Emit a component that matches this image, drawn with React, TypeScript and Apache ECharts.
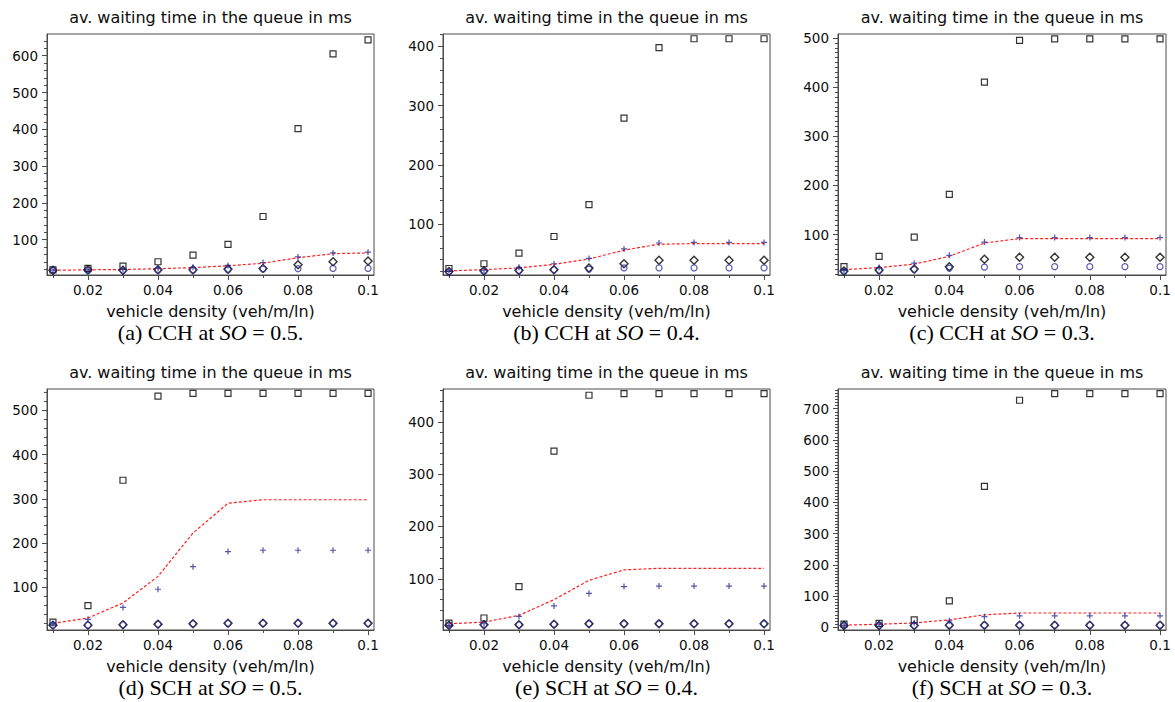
import React, { useEffect, useRef } from "react";
import * as echarts from "echarts";

// ---------- data ----------
const density = [0.01, 0.02, 0.03, 0.04, 0.05, 0.06, 0.07, 0.08, 0.09, 0.1];

const panelLetters = ["(a)", "(b)", "(c)", "(d)", "(e)", "(f)"];
const schemes = ["CCH", "CCH", "CCH", "SCH", "SCH", "SCH"];
const soValues = ["0.5", "0.4", "0.3", "0.5", "0.4", "0.3"];

const titleText = "av. waiting time in the queue in ms";
const xAxisTitle = "vehicle density (veh/m/ln)";
const xTickLabels = [0.02, 0.04, 0.06, 0.08, 0.1];
const xMinorTicks = [0.01, 0.03, 0.05, 0.07, 0.09];

// panel (a) CCH SO=0.5
const aSquare = [18, 22, 28, 40, 58, 87, 163, 402, 605, 643];
const aPlus = [17, 18, 19, 22, 25, 30, 38, 53, 64, 66];
const aLine = [17, 18, 19, 21, 24, 29, 36, 51, 62, 64];
const aDiamond = [17, 18, 17, 18, 18, 20, 22, 32, 40, 42];
const aCircle = [17, 16, 16, 17, 17, 18, 20, 21, 22, 22];

// panel (b) CCH SO=0.4
const bSquare = [25, 33, 51, 79, 133, 279, 398, 413, 413, 413];
const bPlus = [21, 22, 27, 33, 42, 58, 68, 69, 69, 69];
const bLine = [21, 23, 26, 32, 41, 56, 66, 67, 67, 67];
const bDiamond = [20, 21, 22, 23, 26, 33, 39, 39, 39, 39];
const bCircle = [19, 20, 21, 23, 24, 26, 26, 26, 26, 26];

// panel (c) CCH SO=0.3
const cSquare = [35, 56, 95, 182, 410, 495, 498, 498, 498, 498];
const cPlus = [27, 33, 42, 58, 85, 94, 94, 94, 94, 94];
const cLine = [29, 33, 40, 56, 83, 92, 92, 92, 92, 92];
const cDiamond = [26, 28, 30, 35, 50, 54, 54, 54, 54, 54];
const cCircle = [25, 27, 29, 32, 34, 35, 35, 35, 35, 35];

// panel (d) SCH SO=0.5
const dSquare = [22, 59, 342, 532, 538, 538, 538, 538, 538, 538];
const dPlus = [18, 28, 55, 96, 147, 181, 184, 184, 184, 184];
const dLine = [19, 31, 65, 125, 223, 290, 298, 298, 298, 298];
const dDiamond = [15, 15, 16, 17, 18, 19, 19, 19, 19, 19];
const dCircle = [15, 15, 16, 17, 18, 19, 19, 19, 19, 19];

// panel (e) SCH SO=0.4
const eSquare = [15, 25, 85, 344, 451, 454, 454, 454, 454, 454];
const ePlus = [11, 14, 28, 48, 72, 85, 86, 86, 86, 86];
const eLine = [14, 17, 30, 60, 97, 117, 120, 120, 120, 120];
const eDiamond = [11, 12, 12, 13, 14, 14, 14, 14, 14, 14];
const eCircle = [11, 12, 12, 13, 14, 14, 14, 14, 14, 14];

// panel (f) SCH SO=0.3
const fSquare = [10, 13, 24, 85, 451, 727, 748, 748, 748, 748];
const fPlus = [6, 10, 15, 21, 34, 37, 37, 37, 37, 37];
const fLine = [7, 10, 14, 24, 40, 46, 46, 46, 46, 46];
const fDiamond = [6, 6, 6, 7, 7, 7, 7, 7, 7, 7];
const fCircle = [6, 6, 6, 7, 7, 7, 7, 7, 7, 7];

const squares = [aSquare, bSquare, cSquare, dSquare, eSquare, fSquare];
const pluses = [aPlus, bPlus, cPlus, dPlus, ePlus, fPlus];
const lines = [aLine, bLine, cLine, dLine, eLine, fLine];
const diamonds = [aDiamond, bDiamond, cDiamond, dDiamond, eDiamond, fDiamond];
const circles = [aCircle, bCircle, cCircle, dCircle, eCircle, fCircle];

// y axis extents and ticks per panel
const yMins = [4, 14, 18, 4, 2, -8.5];
const yMaxs = [659, 421, 508, 548, 463, 763];
const yMajorTicks = [
  [100, 200, 300, 400, 500, 600],
  [100, 200, 300, 400],
  [100, 200, 300, 400, 500],
  [100, 200, 300, 400, 500],
  [100, 200, 300, 400],
  [0, 100, 200, 300, 400, 500, 600, 700],
];
const yMinorSteps = [20, 20, 10, 20, 20, 10];

// ---------- layout ----------
const colLefts = [47, 443, 838];
const colWidths = [327, 327, 328];
const rowTops = [34, 389];
const gridHeight = 241;

const SANS = "DejaVu Sans";
const SERIF = "Liberation Serif";
const AXIS_COLOR = "#4a4a4a";
const TEXT_COLOR = "#0d0d0d";
const X_MIN = 0.0083;
const X_MAX = 0.1017;
const CAPTION_SIZE = 22;

const plusPath = "path://M2,0H3V2H5V3H3V5H2V3H0V2H2Z";

function minorTicksFor(min: number, max: number, step: number): number[] {
  const out: number[] = [];
  const start = Math.ceil(min / step) * step;
  for (let v = start; v <= max + 1e-9; v += step) {
    const r = Math.round(v * 1000) / 1000;
    if (Math.abs(r % 100) > 1e-6) out.push(r);
  }
  return out;
}

function measure(text: string, font: string): number {
  const c = document.createElement("canvas").getContext("2d");
  if (!c) return text.length * 10;
  c.font = font;
  return c.measureText(text).width;
}

function buildOption() {
  const grid: any[] = [];
  const xAxis: any[] = [];
  const yAxis: any[] = [];
  const series: any[] = [];
  const graphic: any[] = [];

  const normalFont = `${CAPTION_SIZE}px "${SERIF}"`;
  const italicFont = `italic ${CAPTION_SIZE}px "${SERIF}"`;

  for (let i = 0; i < 6; i++) {
    const col = i % 3;
    const row = Math.floor(i / 3);
    const left = colLefts[col];
    const width = colWidths[col];
    const top = rowTops[row];
    const cx = left + width / 2;

    grid.push({
      left,
      top,
      width,
      height: gridHeight,
      show: true,
      borderColor: AXIS_COLOR,
      borderWidth: 1,
      backgroundColor: "transparent",
      containLabel: false,
    });

    xAxis.push({
      gridIndex: i,
      type: "value",
      position: "bottom",
      min: X_MIN,
      max: X_MAX,
      axisLine: { show: true, onZero: false, lineStyle: { color: AXIS_COLOR, width: 1 } },
      axisTick: { show: true, inside: false, length: 5, customValues: xTickLabels, lineStyle: { color: AXIS_COLOR } },
      axisLabel: {
        show: true,
        customValues: xTickLabels,
        fontFamily: SANS,
        fontSize: 13.5,
        color: TEXT_COLOR,
        margin: 8,
      },
      splitLine: { show: false },
      name: xAxisTitle,
      nameLocation: "middle",
      nameGap: 28,
      nameTextStyle: { fontFamily: SANS, fontSize: 16, color: TEXT_COLOR },
    });
    xAxis.push({
      gridIndex: i,
      type: "value",
      position: "bottom",
      offset: 0,
      min: X_MIN,
      max: X_MAX,
      axisLine: { show: false, onZero: false },
      axisTick: { show: true, inside: false, length: 3, customValues: xMinorTicks, lineStyle: { color: AXIS_COLOR } },
      axisLabel: { show: false },
      splitLine: { show: false },
    });

    yAxis.push({
      gridIndex: i,
      type: "value",
      position: "left",
      min: yMins[i],
      max: yMaxs[i],
      axisLine: { show: true, onZero: false, lineStyle: { color: AXIS_COLOR, width: 1 } },
      axisTick: { show: true, inside: false, length: 5, customValues: yMajorTicks[i], lineStyle: { color: AXIS_COLOR } },
      axisLabel: {
        show: true,
        customValues: yMajorTicks[i],
        fontFamily: SANS,
        fontSize: 13.5,
        color: TEXT_COLOR,
        margin: 9,
      },
      splitLine: { show: false },
    });
    yAxis.push({
      gridIndex: i,
      type: "value",
      position: "left",
      offset: 0,
      min: yMins[i],
      max: yMaxs[i],
      axisLine: { show: false, onZero: false },
      axisTick: {
        show: true,
        inside: false,
        length: 3,
        customValues: minorTicksFor(yMins[i], yMaxs[i], yMinorSteps[i]),
        lineStyle: { color: AXIS_COLOR },
      },
      axisLabel: { show: false },
      splitLine: { show: false },
    });

    const xi = 2 * i;
    const yi = 2 * i;
    const pts = (arr: number[]) => density.map((x, j) => [x, arr[j]]);

    series.push({
      type: "line",
      xAxisIndex: xi,
      yAxisIndex: yi,
      data: pts(lines[i]),
      symbol: "none",
      showSymbol: false,
      lineStyle: { color: "#ff2020", width: 1.2, type: [3, 2] },
      z: 2,
      silent: true,
    });
    series.push({
      type: "scatter",
      xAxisIndex: xi,
      yAxisIndex: yi,
      data: pts(squares[i]),
      symbol: "rect",
      symbolSize: 6,
      itemStyle: { color: "transparent", borderColor: "#000", borderWidth: 1.2 },
      z: 3,
    });
    series.push({
      type: "scatter",
      xAxisIndex: xi,
      yAxisIndex: yi,
      data: pts(diamonds[i]),
      symbol: "diamond",
      symbolSize: 8,
      itemStyle: { color: "transparent", borderColor: "#000", borderWidth: 1.4 },
      z: 3,
    });
    series.push({
      type: "scatter",
      xAxisIndex: xi,
      yAxisIndex: yi,
      data: pts(circles[i]),
      symbol: "circle",
      symbolSize: 6,
      itemStyle: { color: "transparent", borderColor: "#2d2d9c", borderWidth: 1.2 },
      z: 4,
    });
    series.push({
      type: "scatter",
      xAxisIndex: xi,
      yAxisIndex: yi,
      data: pts(pluses[i]),
      symbol: plusPath,
      symbolSize: 6,
      itemStyle: { color: "#2a2a96" },
      z: 5,
    });

    graphic.push({
      type: "text",
      x: cx,
      y: top - 17,
      style: {
        text: titleText,
        fontFamily: SANS,
        fontSize: 16,
        fill: TEXT_COLOR,
        align: "center",
        verticalAlign: "middle",
      },
    });

    const part1 = `${panelLetters[i]} ${schemes[i]} at `;
    const part2 = "SO";
    const part3 = ` = ${soValues[i]}.`;
    const w1 = measure(part1, normalFont);
    const w2 = measure(part2, italicFont);
    const w3 = measure(part3, normalFont);
    const startX = cx - (w1 + w2 + w3) / 2;
    const cy = top + gridHeight + 57;
    const parts = [
      { t: part1, x: startX, italic: false },
      { t: part2, x: startX + w1, italic: true },
      { t: part3, x: startX + w1 + w2, italic: false },
    ];
    parts.forEach((p) => {
      graphic.push({
        type: "text",
        x: p.x,
        y: cy,
        style: {
          text: p.t,
          fontFamily: SERIF,
          fontSize: CAPTION_SIZE,
          fontStyle: p.italic ? "italic" : "normal",
          fill: "#000",
          align: "left",
          verticalAlign: "middle",
        },
      });
    });
  }

  return {
    animation: false,
    backgroundColor: "#fff",
    grid,
    xAxis,
    yAxis,
    series,
    graphic,
  };
}

export default function App() {
  const ref = useRef<HTMLDivElement>(null);
  useEffect(() => {
    if (!ref.current) return;
    const chart = echarts.init(ref.current, undefined, { renderer: "svg" });
    chart.setOption(buildOption() as any);
    return () => chart.dispose();
  }, []);
  return (
    <div
      ref={ref}
      style={{ position: "fixed", left: 0, top: 0, width: 1175, height: 702, background: "#fff" }}
    />
  );
}
